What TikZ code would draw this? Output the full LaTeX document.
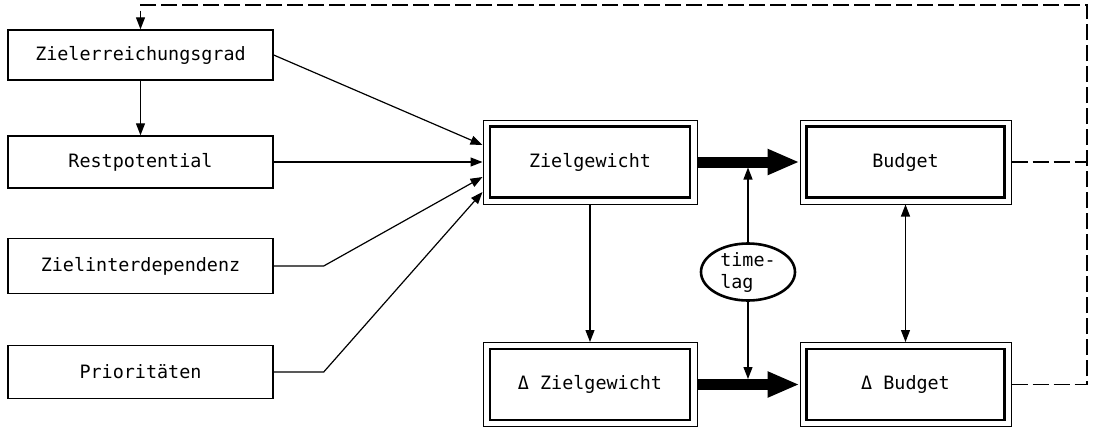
\documentclass[tikz,border=0pt]{standalone}
\usepackage{fontspec}
\setmonofont{DejaVu Sans Mono}
\usetikzlibrary{arrows.meta,shapes.geometric}

\tikzset{
  txt/.style={font=\ttfamily\fontsize{9.2pt}{11pt}\selectfont},
  inbox/.style={txt, draw, line width=0.7pt, minimum width=132.5pt, inner sep=0pt},
  dbox/.style={txt, draw, line width=0.5pt, minimum width=107pt, minimum height=42pt, inner sep=0pt},
  dboxin/.style={draw, line width=1.2pt, minimum width=100pt, minimum height=35.5pt, inner sep=0pt},
  arr/.style={line width=0.6pt, -{Triangle[length=6pt,width=4.5pt]}},
  fat/.style={line width=5.5pt, -{Triangle[length=16pt,width=12pt]}},
  fb/.style={dash pattern=on 8pt off 2.5pt, line width=0.6pt},
}

\begin{document}
\begin{tikzpicture}[x=0.5pt, y=-0.5pt]
        \useasboundingbox (0,0) rectangle (1093,429);

        % input factors
        \node[inbox, minimum height=25pt] (zer) at (140.5,55) {Zielerreichungsgrad};
        \node[inbox, minimum height=26pt] (rest) at (140.5,162) {Restpotential};
        \node[inbox, minimum height=27.5pt] (zid) at (140.5,266) {Zielinterdependenz};
        \node[inbox, minimum height=26.5pt] (prio) at (140.5,372) {Prioritäten};

        % double boxes
        \node[dbox] (zg) at (590,162) {Zielgewicht};
        \node[dboxin] (zgi) at (590,162) {};
        \node[dbox] (dzg) at (590,384.5) {Δ Zielgewicht};
        \node[dboxin] (dzgi) at (590,384.5) {};
        \node[dbox, minimum width=105.5pt] (bud) at (905.5,162) {Budget};
        \node[dboxin, minimum width=99pt] (budi) at (905.5,162) {};
        \node[dbox, minimum width=105.5pt] (dbud) at (905.5,384.5) {Δ Budget};
        \node[dboxin, minimum width=99pt] (dbudi) at (905.5,384.5) {};

        \node[txt, draw, ellipse, line width=1.3pt, minimum width=47pt, minimum height=28.5pt,
              inner sep=0pt, align=left] (tl) at (748,272) {time-\\lag};

        \coordinate (fbR) at (1087,5);

        % inputs
        \draw[arr] (zer.east) -- ([yshift=8.5pt]zg.west);
        \draw[arr] (rest.east) -- (zg.west);
        \draw[arr] (zid.east) -- ++(25pt,0) -- ([yshift=-7.5pt]zg.west);
        \draw[arr] (prio.east) -- ++(25pt,0) -- ([yshift=-15pt]zg.west);
        \draw[arr] (zer.south) -- (rest.north);

        % main flow
        \draw[fat] (zg.east) -- (bud.west);
        \draw[fat] (dzg.east) -- (dbud.west);
        \draw[arr] (zg.south) -- (dzg.north);
        \draw[arr, {Triangle[length=6pt,width=4.5pt]}-{Triangle[length=6pt,width=4.5pt]}] (bud.south) -- (dbud.north);
        \draw[arr, shorten >=2.75pt] (tl.north) -- (tl.north |- zg.east);
        \draw[arr, shorten >=2.75pt] (tl.south) -- (tl.south |- dzg.east);

        % feedback
        \draw[fb] (bud.east) -- (bud.east -| fbR);
        \draw[fb, -{Triangle[length=6pt,width=4.5pt]}] (dbud.east) -| (fbR) -| (zer.north);
    \end{tikzpicture}
\end{document}
